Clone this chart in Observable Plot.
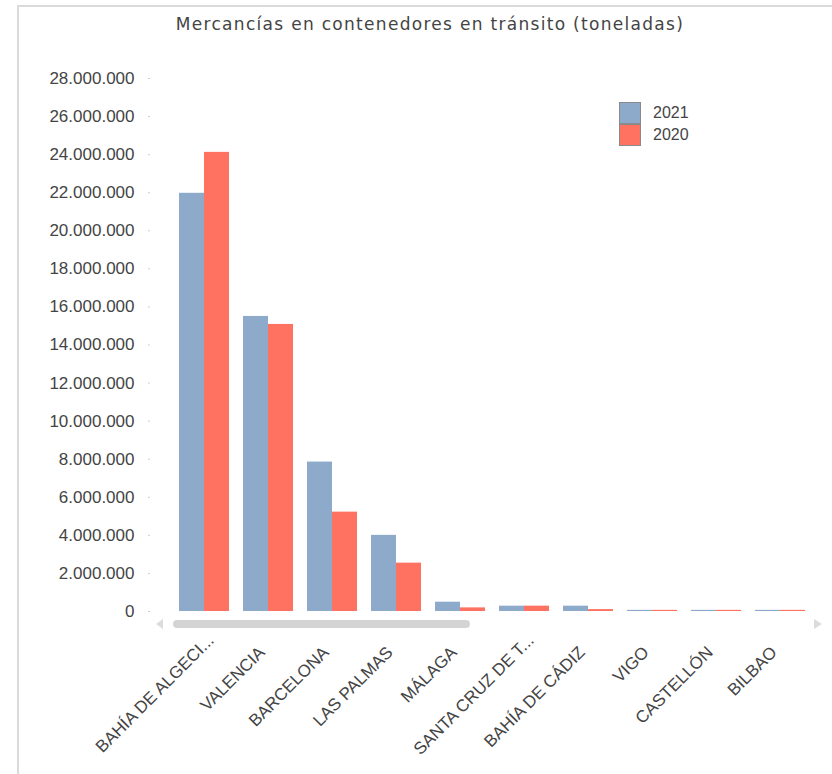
<!DOCTYPE html>
<html>
<head>
<meta charset="utf-8">
<script src="https://cdn.jsdelivr.net/npm/d3@7"></script>
<script src="https://cdn.jsdelivr.net/npm/@observablehq/plot@0.6"></script>
<style>
  html, body { margin: 0; padding: 0; background: #fff; overflow: hidden; }
  #wrap { position: relative; width: 832px; height: 774px; overflow: hidden; }
  #border { position: absolute; left: 17px; top: 5px; width: 900px; height: 900px; border: 2px solid #dadada; box-sizing: border-box; }
  #title { position: absolute; left: 0; top: 14px; width: 860px; text-align: center;
    font-family: "DejaVu Sans", sans-serif; font-size: 17px; letter-spacing: 1.3px; color: #444; }
  #chart { position: absolute; left: 0; top: 0; }
  .leg { position: absolute; left: 619px; width: 22px; height: 22px; box-sizing: border-box; border: 1px solid #8a8a8a; }
  .legtxt { position: absolute; left: 653px; font-family: "Liberation Sans", Arial, sans-serif; font-size: 16px; color: #444; line-height: 22px; }
  #thumb { position: absolute; left: 173px; top: 620px; width: 297px; height: 8px; border-radius: 4px; background: #d4d4d4; }
  #arrL { position: absolute; left: 156px; top: 619px; width: 0; height: 0; border-top: 5px solid transparent; border-bottom: 5px solid transparent; border-right: 7px solid #dcdcdc; }
  #arrR { position: absolute; left: 814px; top: 619px; width: 0; height: 0; border-top: 5px solid transparent; border-bottom: 5px solid transparent; border-left: 8px solid #dcdcdc; }
</style>
</head>
<body>
<div id="wrap">
  <div id="border"></div>
  <div id="chart"></div>
  <div id="title">Mercancías en contenedores en tránsito (toneladas)</div>
  <div id="thumb"></div>
  <div id="arrL"></div>
  <div id="arrR"></div>
  <div id="legend"></div>
</div>
<script>
// ---- Data ----
const ports = ["BAHÍA DE ALGECIRAS", "VALENCIA", "BARCELONA", "LAS PALMAS", "MÁLAGA",
  "SANTA CRUZ DE TENERIFE", "BAHÍA DE CÁDIZ", "VIGO", "CASTELLÓN", "BILBAO"];
const portLabels = ["BAHÍA DE ALGECI...", "VALENCIA", "BARCELONA", "LAS PALMAS", "MÁLAGA",
  "SANTA CRUZ DE T...", "BAHÍA DE CÁDIZ", "VIGO", "CASTELLÓN", "BILBAO"];
const truncatedPorts = ["BAHÍA DE ALGECIRAS", "SANTA CRUZ DE TENERIFE"];
const years = ["2021", "2020"];
const values2021 = [21970000, 15500000, 7850000, 4000000, 490000, 280000, 280000, 60000, 60000, 60000];
const values2020 = [24120000, 15080000, 5220000, 2540000, 190000, 280000, 100000, 60000, 60000, 60000];
const yTicks = [0, 2000000, 4000000, 6000000, 8000000, 10000000, 12000000, 14000000,
  16000000, 18000000, 20000000, 22000000, 24000000, 26000000, 28000000];
const colors = ["#8eaacb", "#ff7262"];

// ---- Build table ----
const data = [];
ports.forEach((p, i) => {
  data.push({port: p, year: years[0], value: values2021[i]});
  data.push({port: p, year: years[1], value: values2020[i]});
});

const fmt = d => String(d).replace(/\B(?=(\d{3})+(?!\d))/g, ".");
const label = d => portLabels[ports.indexOf(d)];

const chart = Plot.plot({
  width: 832,
  height: 774,
  marginTop: 78,
  marginBottom: 163,
  marginLeft: 161,
  marginRight: 10,
  style: {fontFamily: "'Liberation Sans', Arial, sans-serif", background: "transparent", color: "#444"},
  fx: {domain: ports, paddingInner: 0.2, paddingOuter: 0.2, label: null},
  x: {domain: years, padding: 0, axis: null},
  y: {domain: [0, 28000000], label: null},
  color: {domain: years, range: colors},
  marks: [
    Plot.barY(data, {fx: "port", x: "year", y: "value", fill: "year"}),
    Plot.axisY({ticks: yTicks, tickFormat: fmt, tickSize: 2, tickPadding: 14, dx: -28,
      stroke: "#cfcfcf", fill: "#444", fontSize: 17, label: null}),
    Plot.axisFx({anchor: "bottom", ticks: ports.filter(p => !truncatedPorts.includes(p)),
      tickRotate: -45, tickSize: 0, tickPadding: 38, dx: -6, fontSize: 17, fill: "#444",
      tickFormat: label, label: null}),
    Plot.axisFx({anchor: "bottom", ticks: truncatedPorts,
      tickRotate: -45, tickSize: 0, tickPadding: 38, dx: 7, dy: -12, fontSize: 17, fill: "#444",
      tickFormat: label, label: null})
  ]
});
document.getElementById("chart").appendChild(chart);

// ---- Legend ----
const legend = document.getElementById("legend");
years.forEach((y, i) => {
  const sw = document.createElement("div");
  sw.className = "leg";
  sw.style.top = (102 + i * 22) + "px";
  sw.style.background = colors[i];
  legend.appendChild(sw);
  const t = document.createElement("div");
  t.className = "legtxt";
  t.style.top = (102 + i * 22) + "px";
  t.textContent = y;
  legend.appendChild(t);
});
</script>
</body>
</html>
